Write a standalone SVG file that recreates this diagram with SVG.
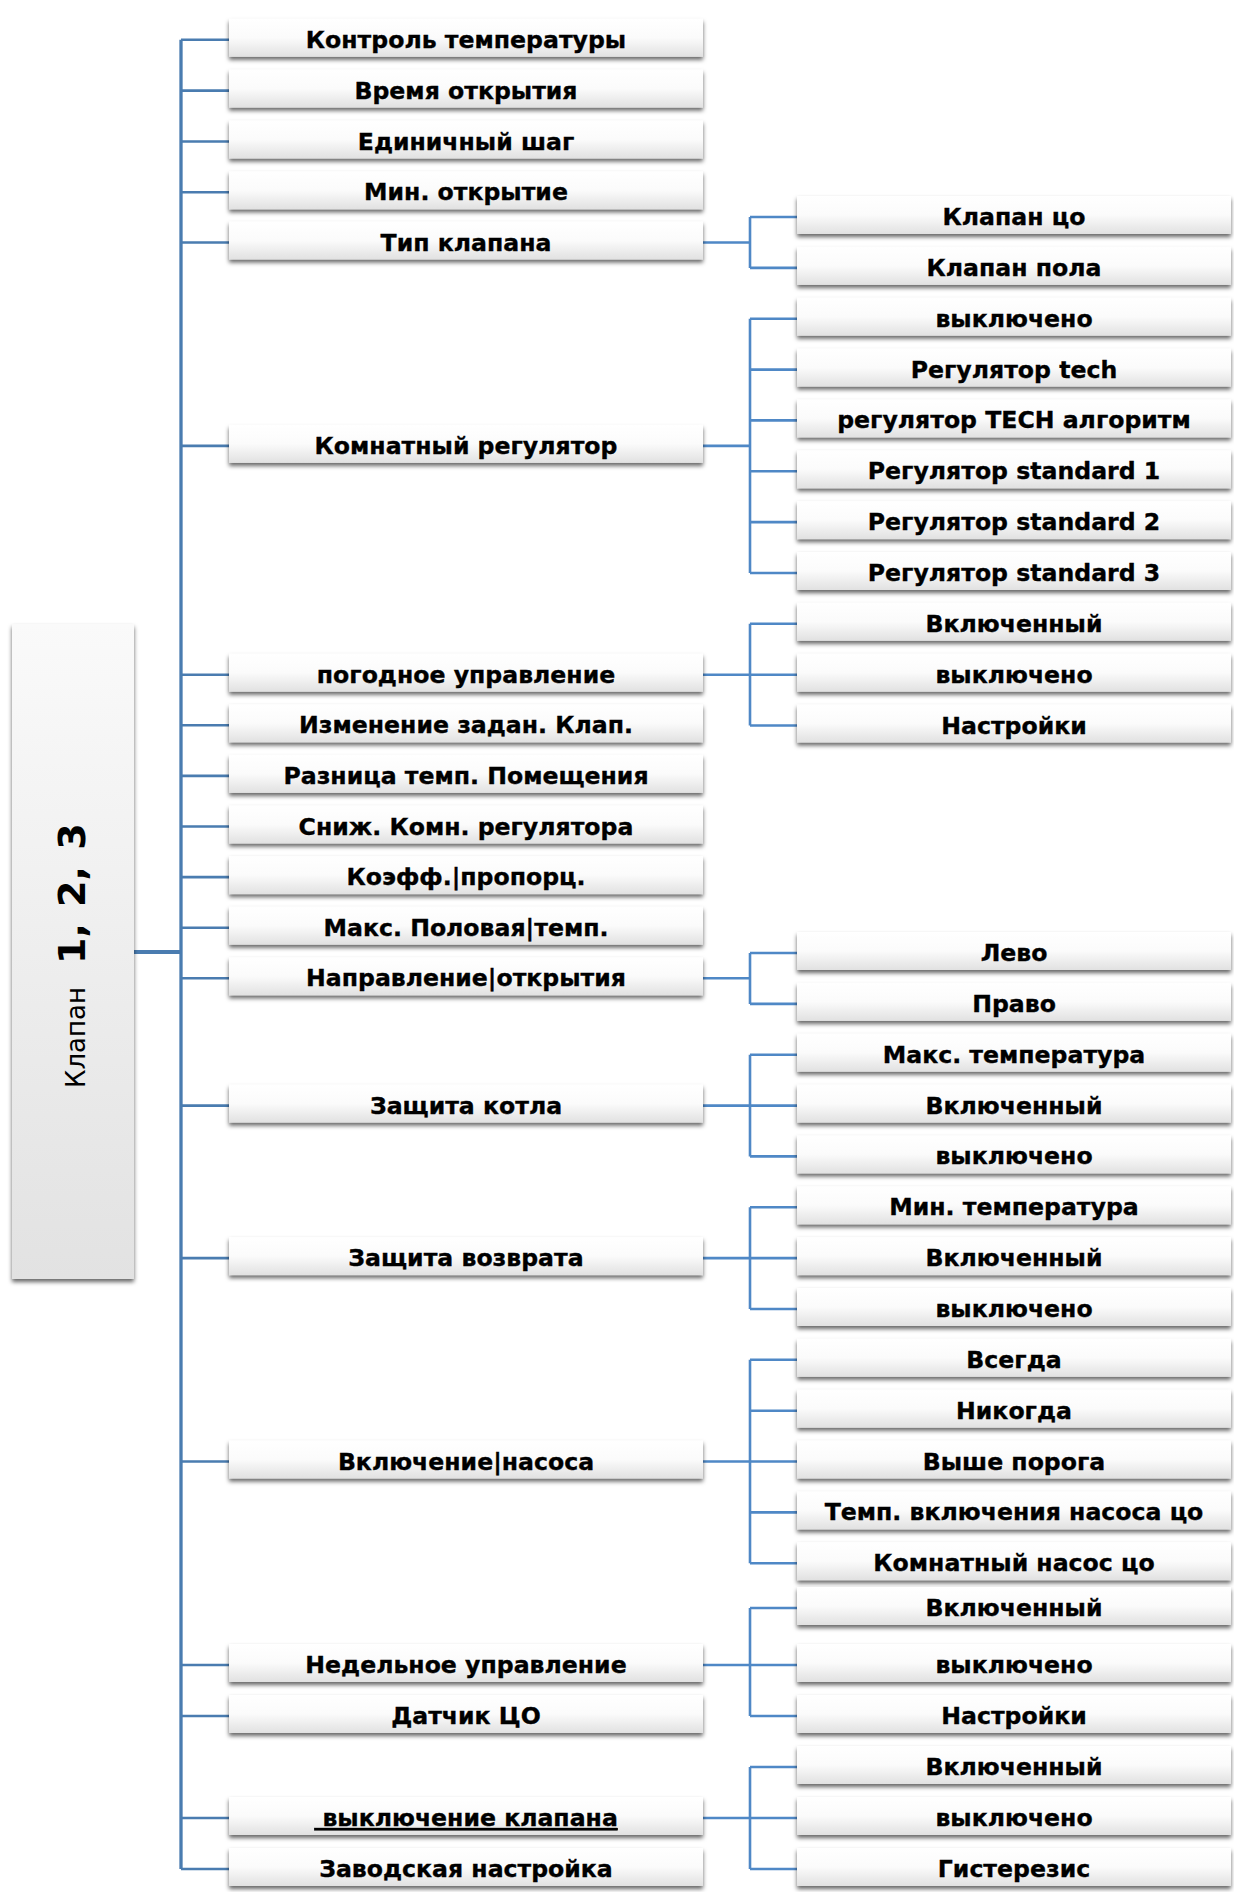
<svg xmlns="http://www.w3.org/2000/svg" width="1234" height="1892" viewBox="0 0 1234 1892">
<defs>
<linearGradient id="gBox" x1="0" y1="0" x2="0" y2="1">
<stop offset="0" stop-color="#ffffff"/>
<stop offset="0.5" stop-color="#fbfbfb"/>
<stop offset="1" stop-color="#e1e1e1"/>
</linearGradient>
<linearGradient id="gBig" x1="0" y1="0" x2="0" y2="1">
<stop offset="0" stop-color="#fafafa"/>
<stop offset="1" stop-color="#e2e2e2"/>
</linearGradient>
<filter id="sh" x="-5%" y="-30%" width="110%" height="170%">
<feDropShadow dx="0" dy="3" stdDeviation="2.2" flood-color="#000" flood-opacity="0.6"/>
</filter>
</defs>
<style>
.box{fill:url(#gBox);filter:url(#sh)}
.big{fill:url(#gBig);filter:url(#sh)}
.t{font-family:"DejaVu Sans","Liberation Sans",sans-serif;font-weight:bold;font-size:23.6px;fill:#000;stroke:#000;stroke-width:0.35;text-anchor:middle}
.trunk{stroke:#4a7cb0;stroke-width:3.3;fill:none}
.tick{stroke:#4a7cb0;stroke-width:2.6;fill:none}
.br{stroke:#4f88c6;stroke-width:2.6;fill:none}
</style>

<g id="connectors">
<line class="trunk" x1="181" y1="39.8" x2="181" y2="1869"/>
<line class="trunk" x1="134" y1="952" x2="181" y2="952" style="stroke-width:4"/>
<path class="tick" d="M181 39.8H229M181 90.6H229M181 141.5H229M181 192.3H229M181 242.5H229M181 445.9H229M181 674.7H229M181 725.3H229M181 775.9H229M181 826.5H229M181 877.1H229M181 927.7H229M181 978.3H229M181 1105.6H229M181 1258.1H229M181 1461.5H229M181 1665H229M181 1716H229M181 1818H229M181 1869H229"/>
<path class="br" d="M703 242.5H750M750 217V267.9M750 217H797M750 267.9H797"/>
<path class="br" d="M703 445.9H750M750 318.7V573M750 318.7H797M750 369.6H797M750 420.4H797M750 471.3H797M750 522.1H797M750 573H797"/>
<path class="br" d="M703 674.7H750M750 623.8V725.5M750 623.8H797M750 674.7H797M750 725.5H797"/>
<path class="br" d="M703 978.3H750M750 953V1003.9M750 953H797M750 1003.9H797"/>
<path class="br" d="M703 1105.6H750M750 1054.7V1156.4M750 1054.7H797M750 1105.6H797M750 1156.4H797"/>
<path class="br" d="M703 1258.1H750M750 1207.3V1309M750 1207.3H797M750 1258.1H797M750 1309H797"/>
<path class="br" d="M703 1461.5H750M750 1359.8V1563.2M750 1359.8H797M750 1410.7H797M750 1461.5H797M750 1512.4H797M750 1563.2H797"/>
<path class="br" d="M703 1665H750M750 1608V1716M750 1608H797M750 1665H797M750 1716H797"/>
<path class="br" d="M703 1818H750M750 1767V1869M750 1767H797M750 1818H797M750 1869H797"/>
</g>

<g id="root">
<rect class="big" x="12" y="624" width="122" height="655"/>
<text transform="translate(85,1088) rotate(-90)" font-family="DejaVu Sans, Liberation Sans, sans-serif" fill="#000"><tspan font-size="26">Клапан</tspan><tspan x="124" font-size="38" font-weight="bold" word-spacing="3">1, 2, 3</tspan></text>
</g>

<g id="m1"><rect class="box" x="229" y="18.8" width="474" height="38"/><text class="t" x="466" y="47.8">Контроль температуры</text></g>
<g id="m2"><rect class="box" x="229" y="69.6" width="474" height="38"/><text class="t" x="466" y="98.6">Время открытия</text></g>
<g id="m3"><rect class="box" x="229" y="120.5" width="474" height="38"/><text class="t" x="466" y="149.5">Единичный шаг</text></g>
<g id="m4"><rect class="box" x="229" y="171.3" width="474" height="38"/><text class="t" x="466" y="200.3">Мин. открытие</text></g>
<g id="m5"><rect class="box" x="229" y="221.5" width="474" height="38"/><text class="t" x="466" y="250.5">Тип клапана</text></g>
<g id="m6"><rect class="box" x="229" y="424.9" width="474" height="38"/><text class="t" x="466" y="453.9">Комнатный регулятор</text></g>
<g id="m7"><rect class="box" x="229" y="653.7" width="474" height="38"/><text class="t" x="466" y="682.7">погодное управление</text></g>
<g id="m8"><rect class="box" x="229" y="704.3" width="474" height="38"/><text class="t" x="466" y="733.3">Изменение задан. Клап.</text></g>
<g id="m9"><rect class="box" x="229" y="754.9" width="474" height="38"/><text class="t" x="466" y="783.9">Разница темп. Помещения</text></g>
<g id="m10"><rect class="box" x="229" y="805.5" width="474" height="38"/><text class="t" x="466" y="834.5">Сниж. Комн. регулятора</text></g>
<g id="m11"><rect class="box" x="229" y="856.1" width="474" height="38"/><text class="t" x="466" y="885.1">Коэфф.|пропорц.</text></g>
<g id="m12"><rect class="box" x="229" y="906.7" width="474" height="38"/><text class="t" x="466" y="935.7">Макс. Половая|темп.</text></g>
<g id="m13"><rect class="box" x="229" y="957.3" width="474" height="38"/><text class="t" x="466" y="986.3">Направление|открытия</text></g>
<g id="m14"><rect class="box" x="229" y="1084.6" width="474" height="38"/><text class="t" x="466" y="1113.6">Защита котла</text></g>
<g id="m15"><rect class="box" x="229" y="1237.1" width="474" height="38"/><text class="t" x="466" y="1266.1">Защита возврата</text></g>
<g id="m16"><rect class="box" x="229" y="1440.5" width="474" height="38"/><text class="t" x="466" y="1469.5">Включение|насоса</text></g>
<g id="m17"><rect class="box" x="229" y="1644" width="474" height="38"/><text class="t" x="466" y="1673">Недельное управление</text></g>
<g id="m18"><rect class="box" x="229" y="1695" width="474" height="38"/><text class="t" x="466" y="1724">Датчик ЦО</text></g>
<g id="m19"><rect class="box" x="229" y="1797" width="474" height="38"/><text class="t" x="466" y="1826" text-decoration="underline" xml:space="preserve"> выключение клапана</text></g>
<g id="m20"><rect class="box" x="229" y="1848" width="474" height="38"/><text class="t" x="466" y="1877">Заводская настройка</text></g>

<g id="r1"><rect class="box" x="797" y="196" width="434" height="38"/><text class="t" x="1014" y="225">Клапан цо</text></g>
<g id="r2"><rect class="box" x="797" y="246.9" width="434" height="38"/><text class="t" x="1014" y="275.9">Клапан пола</text></g>
<g id="r3"><rect class="box" x="797" y="297.7" width="434" height="38"/><text class="t" x="1014" y="326.7">выключено</text></g>
<g id="r4"><rect class="box" x="797" y="348.6" width="434" height="38"/><text class="t" x="1014" y="377.6">Регулятор tech</text></g>
<g id="r5"><rect class="box" x="797" y="399.4" width="434" height="38"/><text class="t" x="1014" y="428.4">регулятор TECH алгоритм</text></g>
<g id="r6"><rect class="box" x="797" y="450.3" width="434" height="38"/><text class="t" x="1014" y="479.3">Регулятор standard 1</text></g>
<g id="r7"><rect class="box" x="797" y="501.1" width="434" height="38"/><text class="t" x="1014" y="530.1">Регулятор standard 2</text></g>
<g id="r8"><rect class="box" x="797" y="552" width="434" height="38"/><text class="t" x="1014" y="581">Регулятор standard 3</text></g>
<g id="r9"><rect class="box" x="797" y="602.8" width="434" height="38"/><text class="t" x="1014" y="631.8">Включенный</text></g>
<g id="r10"><rect class="box" x="797" y="653.7" width="434" height="38"/><text class="t" x="1014" y="682.7">выключено</text></g>
<g id="r11"><rect class="box" x="797" y="704.5" width="434" height="38"/><text class="t" x="1014" y="733.5">Настройки</text></g>
<g id="r12"><rect class="box" x="797" y="932" width="434" height="38"/><text class="t" x="1014" y="961">Лево</text></g>
<g id="r13"><rect class="box" x="797" y="982.9" width="434" height="38"/><text class="t" x="1014" y="1011.9">Право</text></g>
<g id="r14"><rect class="box" x="797" y="1033.7" width="434" height="38"/><text class="t" x="1014" y="1062.7">Макс. температура</text></g>
<g id="r15"><rect class="box" x="797" y="1084.6" width="434" height="38"/><text class="t" x="1014" y="1113.6">Включенный</text></g>
<g id="r16"><rect class="box" x="797" y="1135.4" width="434" height="38"/><text class="t" x="1014" y="1164.4">выключено</text></g>
<g id="r17"><rect class="box" x="797" y="1186.3" width="434" height="38"/><text class="t" x="1014" y="1215.3">Мин. температура</text></g>
<g id="r18"><rect class="box" x="797" y="1237.1" width="434" height="38"/><text class="t" x="1014" y="1266.1">Включенный</text></g>
<g id="r19"><rect class="box" x="797" y="1288" width="434" height="38"/><text class="t" x="1014" y="1317">выключено</text></g>
<g id="r20"><rect class="box" x="797" y="1338.8" width="434" height="38"/><text class="t" x="1014" y="1367.8">Всегда</text></g>
<g id="r21"><rect class="box" x="797" y="1389.7" width="434" height="38"/><text class="t" x="1014" y="1418.7">Никогда</text></g>
<g id="r22"><rect class="box" x="797" y="1440.5" width="434" height="38"/><text class="t" x="1014" y="1469.5">Выше порога</text></g>
<g id="r23"><rect class="box" x="797" y="1491.4" width="434" height="38"/><text class="t" x="1014" y="1520.4">Темп. включения насоса цо</text></g>
<g id="r24"><rect class="box" x="797" y="1542.2" width="434" height="38"/><text class="t" x="1014" y="1571.2">Комнатный насос цо</text></g>
<g id="r25"><rect class="box" x="797" y="1587" width="434" height="38"/><text class="t" x="1014" y="1616">Включенный</text></g>
<g id="r26"><rect class="box" x="797" y="1644" width="434" height="38"/><text class="t" x="1014" y="1673">выключено</text></g>
<g id="r27"><rect class="box" x="797" y="1695" width="434" height="38"/><text class="t" x="1014" y="1724">Настройки</text></g>
<g id="r28"><rect class="box" x="797" y="1746" width="434" height="38"/><text class="t" x="1014" y="1775">Включенный</text></g>
<g id="r29"><rect class="box" x="797" y="1797" width="434" height="38"/><text class="t" x="1014" y="1826">выключено</text></g>
<g id="r30"><rect class="box" x="797" y="1848" width="434" height="38"/><text class="t" x="1014" y="1877">Гистерезис</text></g>
</svg>
